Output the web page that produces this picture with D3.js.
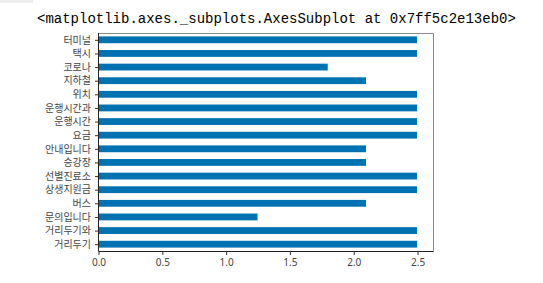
<!DOCTYPE html>
<html>
<head>
<meta charset="utf-8">
<script src="https://cdn.jsdelivr.net/npm/d3@7"></script>
<style>
  html, body { margin: 0; padding: 0; background: #fff; }
  svg { display: block; }
</style>
</head>
<body>
<svg id="chart" width="543" height="283"></svg>
<script>
// Data (bottom to top as in matplotlib barh)
const categories = ["거리두기", "거리두기와", "문의입니다", "버스", "상생지원금", "선별진료소", "승강장", "안내입니다",
                    "요금", "운행시간", "운행시간과", "위치", "지하철", "코로나", "택시", "터미널"];
const values = [2.5, 2.5, 1.25, 2.1, 2.5, 2.5, 2.1, 2.1, 2.5, 2.5, 2.5, 2.5, 2.1, 1.8, 2.5, 2.5];
const xTicks = [0, 0.5, 1.0, 1.5, 2.0, 2.5];
const titleText = "<matplotlib.axes._subplots.AxesSubplot at 0x7ff5c2e13eb0>";

(function () {
const svg = d3.select("#chart");
const mLeft = 98, mRight = 433, mTop = 33, mBottom = 251;

// Jupyter prompt sliver
svg.append("rect").attr("x", 0).attr("y", 0).attr("width", 33).attr("height", 3).attr("fill", "#eeeeee");

svg.append("text")
  .attr("x", 37).attr("y", 23)
  .attr("font-family", "'Liberation Mono', 'Courier New', monospace")
  .attr("font-size", 14)
  .attr("fill", "#000")
  .text(titleText);

const x = d3.scaleLinear().domain([0, 2.625]).range([mLeft, mRight]);
const y = d3.scaleLinear().domain([-0.5, categories.length - 0.5]).range([mBottom, mTop]);
const barH = 0.5;

const g = svg.append("g");

g.selectAll("rect.bar")
  .data(values)
  .enter().append("rect")
  .attr("class", "bar")
  .attr("x", x(0))
  .attr("y", (d, i) => y(i + barH / 2))
  .attr("width", d => x(d) - x(0))
  .attr("height", (d, i) => y(i - barH / 2) - y(i + barH / 2))
  .attr("fill", "#0072B2");

// Spines
g.append("line").attr("x1", mLeft + 0.5).attr("x2", mRight + 0.5).attr("y1", mTop + 0.5).attr("y2", mTop + 0.5)
  .attr("stroke", "#8a8a8a").attr("stroke-width", 1);
g.append("line").attr("x1", mRight + 0.5).attr("x2", mRight + 0.5).attr("y1", mTop + 0.5).attr("y2", mBottom + 0.5)
  .attr("stroke", "#8a8a8a").attr("stroke-width", 1);

// X axis
const xAxis = d3.axisBottom(x).tickValues(xTicks).tickFormat(d3.format(".1f")).tickSizeOuter(0).tickSize(3.5).tickPadding(4);
const gx = svg.append("g").attr("transform", `translate(0.5,${mBottom + 0.5})`).call(xAxis);
gx.select(".domain").attr("d", `M${mLeft},0H${mRight}`).attr("stroke", "#222");
gx.selectAll(".tick line").attr("stroke", "#333");
gx.selectAll("text").attr("font-family", "'Noto Sans', 'DejaVu Sans', sans-serif").attr("font-size", 10).attr("fill", "#444");

// Y axis
const yAxis = d3.axisLeft(y).tickValues(d3.range(categories.length)).tickFormat(i => categories[i]).tickSizeOuter(0).tickSize(3.5).tickPadding(4);
const gy = svg.append("g").attr("transform", `translate(${mLeft + 0.5},0)`).call(yAxis);
gy.select(".domain").attr("d", `M0,${mTop}V${mBottom + 0.5}`).attr("stroke", "#222");
gy.selectAll(".tick line").attr("stroke", "#333");
gy.selectAll("text").attr("font-family", "'Noto Sans CJK KR', 'Noto Sans', sans-serif").attr("font-size", 10).attr("fill", "#444");
})();
</script>
</body>
</html>
